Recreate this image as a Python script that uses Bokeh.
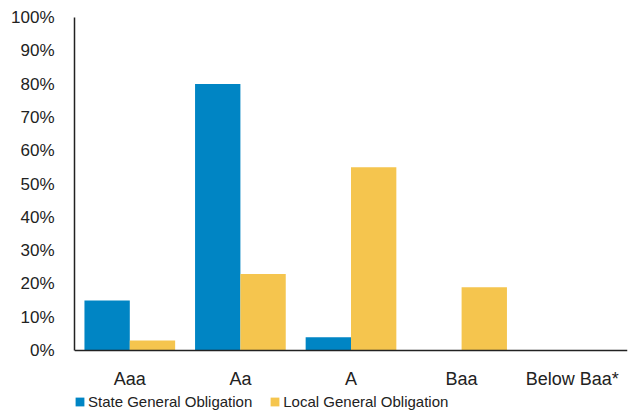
from bokeh.plotting import figure
from bokeh.models import FactorRange, Range1d, NumeralTickFormatter, Legend, LegendItem, FixedTicker
from bokeh.transform import dodge
from bokeh.embed import file_html
from bokeh.resources import INLINE
from bokeh.models import ColumnDataSource

categories = ["Aaa", "Aa", "A", "Baa", "Below Baa*"]
state_go = [0.15, 0.80, 0.04, 0.0, 0.0]
local_go = [0.03, 0.23, 0.55, 0.19, 0.0]
y_ticks = [0, 0.1, 0.2, 0.3, 0.4, 0.5, 0.6, 0.7, 0.8, 0.9, 1.0]
series_names = ["State General Obligation", "Local General Obligation"]

BLUE = "#0085C4"
YELLOW = "#F5C54E"
FONT = "Liberation Sans"

src = ColumnDataSource(dict(cat=categories, state=state_go, local=local_go))

# frame extends below the zero line so the x labels and the legend sit inside it
p = figure(frame_width=553, frame_height=394,
           x_range=FactorRange(*categories, range_padding=0.0),
           y_range=Range1d(-61 / 333, 1.0), output_backend="svg", toolbar_location=None,
           min_border_left=74, min_border_right=4, min_border_top=17, min_border_bottom=0)
p.outline_line_color = None
p.grid.grid_line_color = None

r1 = p.vbar(x=dodge("cat", -0.205, range=p.x_range), top="state", width=0.41, source=src,
            color=BLUE, line_color=None)
r2 = p.vbar(x=dodge("cat", 0.205, range=p.x_range), top="local", width=0.41, source=src,
            color=YELLOW, line_color=None)

p.yaxis.ticker = FixedTicker(ticks=y_ticks)
p.yaxis.formatter = NumeralTickFormatter(format="0%")
p.yaxis.bounds = (0, 1)
p.xaxis.fixed_location = 0
for ax in (p.xaxis[0], p.yaxis[0]):
    ax.major_tick_line_color = None
    ax.minor_tick_line_color = None
    ax.axis_line_color = "#222222"
    ax.axis_line_width = 1.5
    ax.major_label_text_font = FONT
    ax.major_label_text_color = "#222222"
p.yaxis.major_label_standoff = 14
p.yaxis.major_label_text_font_size = "17px"
p.xaxis.major_label_text_font_size = "18px"
p.xaxis.major_label_standoff = 12

legend = Legend(items=[LegendItem(label=series_names[0], renderers=[r1]),
                       LegendItem(label=series_names[1], renderers=[r2])],
                orientation="horizontal", location=(0, 1),
                label_text_font=FONT, label_text_font_size="15px", label_text_color="#222222",
                glyph_width=11, glyph_height=11, spacing=17, padding=0, margin=0,
                label_standoff=3, border_line_color=None, background_fill_alpha=0)
p.add_layout(legend, "center")

open("out.html", "w").write(file_html(p, INLINE))
